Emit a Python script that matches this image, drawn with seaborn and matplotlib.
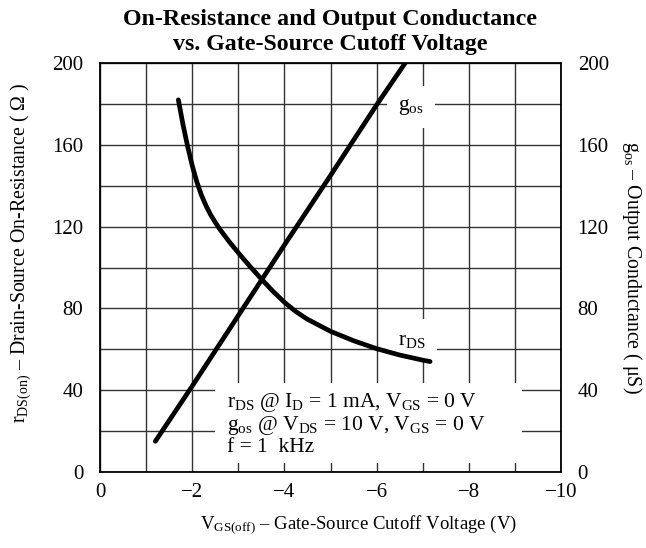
import seaborn as sns
import matplotlib.pyplot as plt
import matplotlib.patches as mpatches
import pandas as pd
import numpy as np

# ----------------------------
# Data
# ----------------------------
# rDS(on) vs VGS(off)  (left axis, ohms)
rds_vgs = [-1.70, -1.80, -1.90, -2.00, -2.10, -2.20, -2.30, -2.40, -2.50, -2.60,
           -2.80, -3.00, -3.25, -3.50, -3.75, -4.00, -4.25, -4.50, -5.00, -5.50,
           -6.00, -6.50, -7.00, -7.16]
rds_ohm = [182, 169.9, 159.3, 149.9, 141.9, 135.4, 130.2, 125.8, 122.1, 118.7,
           112.7, 107.2, 100.6, 94.4, 88.4, 83.0, 78.4, 74.7, 68.8, 64.2,
           60.3, 57.2, 54.7, 54.0]

# gos vs VGS(off)  (right axis, uS)
gos_vgs = [-1.20, -2.00, -3.00, -4.00, -5.00, -6.00, -6.62]
gos_us = [15, 42, 76.5, 111, 145, 179.5, 200]

x_ticks = [0, -2, -4, -6, -8, -10]
x_tick_labels = ["0", "\u22122", "\u22124", "\u22126", "\u22128", "\u221210"]
y_ticks = [0, 40, 80, 120, 160, 200]

df_rds = pd.DataFrame({"VGS": rds_vgs, "value": rds_ohm})
df_gos = pd.DataFrame({"VGS": gos_vgs, "value": gos_us})

# ----------------------------
# Style
# ----------------------------
sns.set_style("white")
plt.rcParams["font.family"] = ["Liberation Serif", "DejaVu Serif"]
plt.rcParams["mathtext.fontset"] = "custom"
plt.rcParams["mathtext.rm"] = "Liberation Serif"
plt.rcParams["mathtext.it"] = "Liberation Serif:italic"
plt.rcParams["mathtext.bf"] = "Liberation Serif:bold"
plt.rcParams["text.color"] = "black"
plt.rcParams["axes.labelcolor"] = "black"
plt.rcParams["xtick.color"] = "black"
plt.rcParams["ytick.color"] = "black"

W, H = 646, 548
fig, ax = plt.subplots(figsize=(W / 100, H / 100), dpi=100)
fig.subplots_adjust(left=100 / W, right=561 / W, bottom=1 - 472 / H, top=1 - 63 / H)

# curves (both share the same 0-200 scale)
line_kw = dict(color="black", linewidth=3.4, estimator=None, legend=False,
               solid_capstyle="round", solid_joinstyle="round", zorder=4)
sns.lineplot(data=df_rds, x="VGS", y="value", ax=ax, **line_kw)
sns.lineplot(data=df_gos, x="VGS", y="value", ax=ax, **line_kw)

# ----------------------------
# Axes
# ----------------------------
ax.set_xlim(0, -10)
ax.set_ylim(0, 200)
ax.set_xticks(x_ticks)
ax.set_xticklabels(x_tick_labels)
ax.set_yticks(y_ticks)
ax.set_xticks(np.arange(0, -11, -1), minor=True)
ax.set_yticks(np.arange(0, 201, 20), minor=True)
ax.grid(which="both", color="#333333", linewidth=1.0)
ax.set_axisbelow(True)
ax.tick_params(which="both", length=0, labelsize=15)
ax.tick_params(axis="y", pad=12)
ax.tick_params(axis="x", pad=8)
for sp in ax.spines.values():
    sp.set_color("black")
    sp.set_linewidth(1.3)

ax2 = ax.twinx()
ax2.set_ylim(0, 200)
ax2.set_yticks(y_ticks)
ax2.tick_params(length=0, labelsize=15, pad=12)
for sp in ax2.spines.values():
    sp.set_visible(False)

ax.set_xlabel("V$_{\\mathrm{GS(off)}}$ \u2013 Gate-Source Cutoff Voltage (V)", fontsize=13.5)
ax.xaxis.set_label_coords(0.56, -0.10)
ax.set_ylabel("r$_{\\mathrm{DS(on)}}$ \u2013 Drain-Source On-Resistance ( \u03a9 )",
              fontsize=14.3, va="center")
ax.yaxis.set_label_coords(-0.172, 0.535)
ax2.set_ylabel("g$_{\\mathrm{os}}$ \u2013 Output Conductance ( \u03bcS)", fontsize=14.3,
               rotation=270, va="center")
ax2.yaxis.set_label_coords(1.155, 0.5)

fig.text(330 / W, 1 - 32 / H,
         "On-Resistance and Output Conductance\nvs. Gate-Source Cutoff Voltage",
         ha="center", va="center", fontsize=17.2, fontweight="bold", linespacing=1.25)

# ----------------------------
# Annotations
# ----------------------------
box = dict(facecolor="white", edgecolor="none", pad=8)
ax.text(-6.46, 178.5, "g$_{\\mathrm{os}}$", fontsize=15.5, ha="left", va="center",
        bbox=box, zorder=3)
ax.text(-6.46, 64.5, "r$_{\\mathrm{DS}}$", fontsize=15.5, ha="left", va="center",
        bbox=box, zorder=3)

# white panel behind the conditions text
ax.add_patch(mpatches.Rectangle((0.2495, 0.022), 0.6655, 0.1956, transform=ax.transAxes,
                                facecolor="white", edgecolor="none", zorder=2))
ax.text(-2.75, 23.5,
        "r$_{\\mathrm{DS}}$ @ I$_{\\mathrm{D}}$ = 1 mA, V$_{\\mathrm{GS}}$ = 0 V\n"
        "g$_{\\mathrm{os}}$ @ V$_{\\mathrm{DS}}$ = 10 V, V$_{\\mathrm{GS}}$ = 0 V\n"
        "f = 1  kHz",
        fontsize=15.5, ha="left", va="center", linespacing=1.05, zorder=3)

plt.savefig("out.png", dpi=100)
plt.close()
